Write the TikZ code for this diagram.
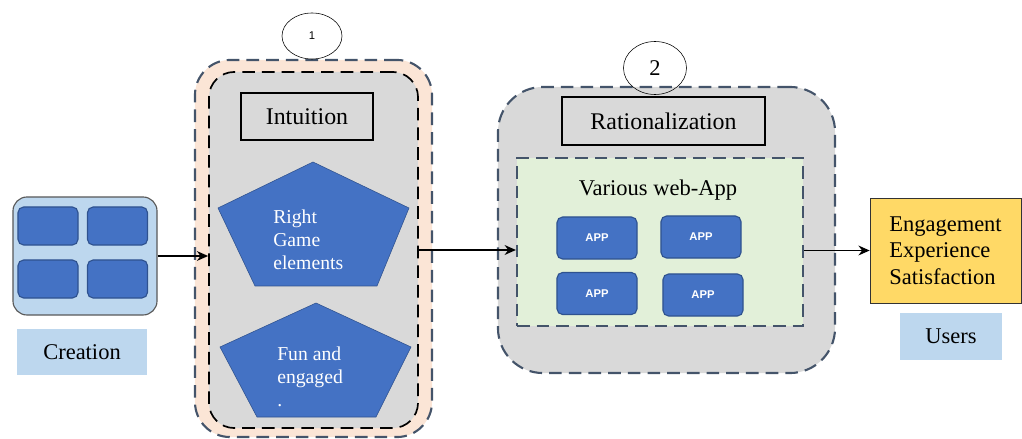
\documentclass[tikz,border=0pt]{standalone}
\usepackage{fontspec}
\setmainfont{Liberation Serif}
\newfontfamily\appfont{Liberation Sans}
\usetikzlibrary{shapes.geometric, arrows.meta}

\definecolor{lightblue}{HTML}{BDD7EE}
\definecolor{appblue}{HTML}{4472C4}
\definecolor{tileborder}{HTML}{2F528F}
\definecolor{boxgray}{HTML}{D9D9D9}
\definecolor{peach}{HTML}{FBE5D6}
\definecolor{grpblue}{HTML}{44546A}
\definecolor{webgreen}{HTML}{E2F0D9}
\definecolor{enggold}{HTML}{FFD966}

\tikzset{
  tile/.style={draw=tileborder, fill=appblue, rounded corners=4pt, line width=0.8pt, minimum width=1.5cm, minimum height=0.95cm},
  appbox/.style={draw=tileborder, fill=appblue, rounded corners=4pt, line width=0.8pt, minimum width=2cm, minimum height=1.05cm, text=white, font=\appfont\bfseries\fontsize{8}{9}\selectfont},
  lbl/.style={fill=lightblue, font=\fontsize{16}{19}\selectfont},
  titlebox/.style={draw=black, fill=boxgray, thick, font=\fontsize{17}{20}\selectfont},
  grpline/.style={draw=grpblue, line width=1.5pt, dash pattern=on 9pt off 5pt},
  numcirc/.style={ellipse, draw=black, thin, inner sep=0pt},
  penta/.style={fill=appblue, draw=tileborder},
  pentatxt/.style={text=white, align=left, inner sep=0pt, font=\fontsize{14}{16.5}\selectfont},
  arr/.style={-{Stealth[length=8pt, width=7pt]}, line width=1.1pt}
}

\begin{document}
\begin{tikzpicture}[x=0.025cm, y=-0.025cm]
	\useasboundingbox (0,0) rectangle (1022,439);

	\node[draw=gray!70!black, fill=lightblue, thick, rounded corners=10pt, minimum width=3.6cm, minimum height=2.95cm] (crt) at (85,256) {};
	\node[tile] (t1) at (48,226) {};
	\node[tile] (t2) at (117.5,226) {};
	\node[tile] (t3) at (48,279) {};
	\node[tile] (t4) at (117.5,279) {};
	\node[lbl, minimum width=3.25cm, minimum height=1.125cm] (crtlbl) at (82,352) {Creation};

	\node[grpline, fill=peach, rounded corners=25pt, minimum width=5.925cm, minimum height=9.425cm] (grp1) at (313.5,248.5) {};
	\node[draw=black, fill=boxgray, line width=1.2pt, dash pattern=on 9pt off 5pt, rounded corners=18pt, minimum width=5.225cm, minimum height=8.9cm] (grp1in) at (313.5,250) {};
	\node[numcirc, fill=white, minimum width=1.5cm, minimum height=1.15cm, font=\appfont\fontsize{8}{9}\selectfont] (n1) at (312,36) {1};
	\node[titlebox, minimum width=3.3cm, minimum height=1.175cm] (intu) at (307,116.5) {Intuition};
	\draw[penta] (313,162) -- (409,208) -- (377,286) -- (255,286) -- (218,208) -- cycle;
	\node[pentatxt, anchor=west] (rge) at (273,240) {Right\\Game\\elements};
	\draw[penta] (316,303) -- (411,347) -- (376,417) -- (257,417) -- (220,347) -- cycle;
	\node[pentatxt, anchor=west] (fae) at (277,377) {Fun and\\engaged\\.};

	\node[grpline, fill=boxgray, rounded corners=32pt, minimum width=8.425cm, minimum height=7.15cm] (grp2) at (666.5,230) {};
	\node[numcirc, minimum width=1.575cm, minimum height=1.325cm, font=\fontsize{16}{18}\selectfont] (n2) at (655,68) {2};
	\node[titlebox, minimum width=5.075cm, minimum height=1.2cm] (rat) at (663.5,121) {Rationalization};
	\node[grpline, fill=webgreen, minimum width=7.15cm, minimum height=4.2cm] (web) at (660,242) {};
	\node[font=\fontsize{16}{19}\selectfont] (webtxt) at (658,190) {Various web-App};
	\node[appbox] (a1) at (597,238) {APP};
	\node[appbox] (a2) at (701,237) {APP};
	\node[appbox] (a3) at (597,293.5) {APP};
	\node[appbox] (a4) at (703,295) {APP};

	\node[draw=black!80, fill=enggold, align=left, minimum width=3.775cm, minimum height=2.625cm, font=\fontsize{16}{19}\selectfont] (eng) at (945.5,250.5) {Engagement\\Experience\\Satisfaction};
	\node[lbl, minimum width=2.55cm, minimum height=1.175cm] (usr) at (951,336.5) {Users};

	\draw[arr] (crt.east) -- (crt.east -| grp1in.west);
	\draw[arr] (grp1in.east) -- (grp1in.east -| web.west);
	\draw[arr] (web.east |- eng.west) -- (eng.west);

\end{tikzpicture}
\end{document}
